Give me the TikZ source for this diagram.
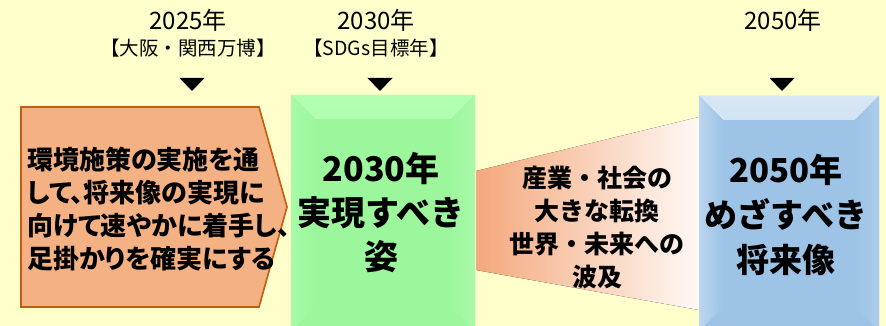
\documentclass[tikz,border=0pt]{standalone}
\usepackage{fontspec}
\newfontfamily\jpfont{Noto Sans CJK JP}
\newfontfamily\jppfont[CharacterWidth=AlternateProportional]{Noto Sans CJK JP}
\usepackage{tikz}
\usetikzlibrary{positioning}
\definecolor{paper}{HTML}{FFFFCC}
\definecolor{salmon}{HTML}{F4B183}
\definecolor{rust}{HTML}{C55A11}
\definecolor{leaf}{HTML}{9CF79C}
\definecolor{sky}{HTML}{9DC3E6}
\tikzset{x=1pt, y=-1pt, every node/.style={inner sep=0pt, align=center, font=\jpfont},
	yearlabel/.style={font=\jpfont\fontsize{24}{28}\selectfont},
	eventlabel/.style={font=\jpfont\fontsize{19.5}{22}\selectfont},
	bigtext/.style={font=\jpfont\bfseries\fontsize{32}{44}\selectfont},
	steptext/.style={font=\jpfont\bfseries\fontsize{25}{33}\selectfont},
	bevel/.style 2 args={fill=#2, path picture={
		\fill[top color=#1, bottom color=#2] (path picture bounding box.north west) -- (path picture bounding box.north east) -- ([shift={(-24pt,-24pt)}]path picture bounding box.north east) -- ([shift={(24pt,-24pt)}]path picture bounding box.north west) -- cycle;
		\fill[left color=#1!50!#2, right color=#2] (path picture bounding box.north west) -- ([shift={(24pt,-24pt)}]path picture bounding box.north west) -- ([shift={(24pt,24pt)}]path picture bounding box.south west) -- (path picture bounding box.south west) -- cycle;
		\fill[left color=#2, right color=#2!85!white] (path picture bounding box.north east) -- ([shift={(-24pt,-24pt)}]path picture bounding box.north east) -- ([shift={(-24pt,24pt)}]path picture bounding box.south east) -- (path picture bounding box.south east) -- cycle;
	}},
	marker/.style={fill=black}}

\begin{document}
\begin{tikzpicture}
	\fill[paper] (0,0) rectangle (886,326);
	\useasboundingbox (0,0) rectangle (886,326);
	% fan between the two goals
	\fill[left color=salmon!95!red, right color=salmon!8!white] (476,171) -- (699,117) -- (699,310) -- (476,270) -- cycle;
	% first step
	\draw[fill=salmon, draw=rust, line width=1.6pt] (21,107) -- (259,107) -- (287,207) -- (259,307) -- (21,307) -- cycle;
	\node[font=\jppfont\bfseries\fontsize{26}{33}\selectfont, align=left, anchor=west] (Action) at (27,209) {環境施策の実施を通\\して、将来像の実現に\\向けて速やかに着手し、\\足掛かりを確実にする};
	\node[bevel={green!30!white}{leaf}, minimum width=184pt, minimum height=236pt] (Goal2030) at (383,213) {};
	\node[bigtext, font=\jpfont\bfseries\fontsize{34}{44}\selectfont] (Goal2030 text) at (381,213) {2030年\\実現すべき\\姿};
	\node[bevel={sky!40!white}{sky}, minimum width=180pt, minimum height=235pt] (Goal2050) at (789,213.5) {};
	\node[bigtext, font=\jpfont\bfseries\fontsize{33}{45}\selectfont] (Goal2050 text) at (786,215) {2050年\\めざすべき\\将来像};
	\node[steptext] (Change) at (597,227) {産業・社会の\\大きな転換\\世界・未来への\\波及};
	% years
	\node[yearlabel] (y2025) at (188,20) {2025年};
	\node[eventlabel, below=8pt of y2025] (Expo) {【大阪・関西万博】};
	\node[yearlabel] (y2030) at (376,20) {2030年};
	\node[eventlabel, below=8pt of y2030] (SDGs) {【SDGs目標年】};
	\node[yearlabel] (y2050) at (783,20) {2050年};
	\foreach \x in {192,380,782}
		\fill[marker] (\x-12.5,78) -- (\x+12.5,78) -- (\x,91) -- cycle;
\end{tikzpicture}
\end{document}
